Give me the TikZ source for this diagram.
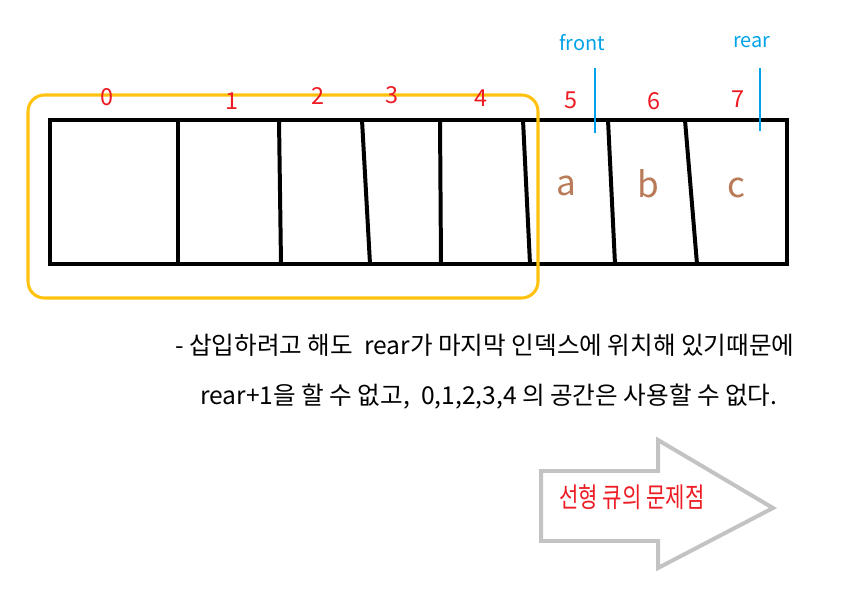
\documentclass[tikz,border=0pt]{standalone}
\usepackage{fontspec}
\setmainfont{Noto Sans CJK KR}
\usepackage{tikz}

\definecolor{idxred}{HTML}{ED1C24}
\definecolor{ptrblue}{HTML}{00A2E8}
\definecolor{valbrown}{HTML}{B97A57}
\definecolor{boxgold}{HTML}{FFC20E}
\definecolor{arrowgray}{HTML}{C3C3C3}

\begin{document}
\begin{tikzpicture}[x=0.03cm, y=-0.03cm,
  % index numbers above the cells
  idx/.style={text=idxred, font=\fontsize{20}{24}\selectfont, inner sep=0pt},
  % front / rear labels
  ptr/.style={text=ptrblue, font=\fontsize{17}{20}\selectfont, inner sep=0pt},
  % stored values
  val/.style={text=valbrown, font=\fontsize{30}{34}\selectfont, inner sep=0pt},
  % explanation lines
  note/.style={anchor=west, font=\fontsize{21}{25}\selectfont, inner sep=0pt}]
  \useasboundingbox (0,0) rectangle (848,599);

  % the queue array
  \draw [line width=3.4pt] (50,120) rectangle (787,264);
  \foreach \top/\bot in {178/178, 279/281, 362/370, 440/441, 523/530, 608/615, 685/697}
    \draw [line width=3.4pt] (\top,120) -- (\bot,264);

  % unusable area
  \draw [boxgold, line width=2.6pt, rounded corners=14pt] (28,95) rectangle (538,298);

  \node [idx] (idx0) at (107,97) {0};
  \node [idx] (idx1) at (232,101) {1};
  \node [idx] (idx2) at (318,96) {2};
  \node [idx] (idx3) at (392,95) {3};
  \node [idx] (idx4) at (481,98) {4};
  \node [idx] (idx5) at (571,100) {5};
  \node [idx] (idx6) at (654,101) {6};
  \node [idx] (idx7) at (738,99) {7};

  \node [ptr] (front) at (582,43) {front};
  \node [ptr] (rear) at (752,42) {rear};
  \coordinate (frontmark) at (595,68);
  \coordinate (rearmark) at (760,68);
  \draw [ptrblue, line width=1.8pt] (frontmark) -- ++(0,65);
  \draw [ptrblue, line width=1.8pt] (rearmark) -- ++(0,63);

  \node [val] (vala) at (566,186) {a};
  \node [val] (valb) at (648,184) {b};
  \node [val] (valc) at (736,188) {c};

  \node [note] (noteone) at (175,345) {- 삽입하려고 해도 \ rear가 마지막 인덱스에 위치해 있기때문에};
  \node [note] (notetwo) at (200,397) {rear+1을 할 수 없고, \ 0,1,2,3,4 의 공간은 사용할 수 없다.};

  % problem arrow
  \draw [arrowgray, line width=3.4pt, line join=miter]
    (541,471) -- (658,471) -- (658,440) -- (773,508) -- (658,568) -- (658,541) -- (541,541) -- cycle;
  \node [text=idxred, font=\fontsize{18}{22}\selectfont, inner sep=0pt, yscale=1.3] (problem) at (632,497) {선형 큐의 문제점};

\end{tikzpicture}
\end{document}
